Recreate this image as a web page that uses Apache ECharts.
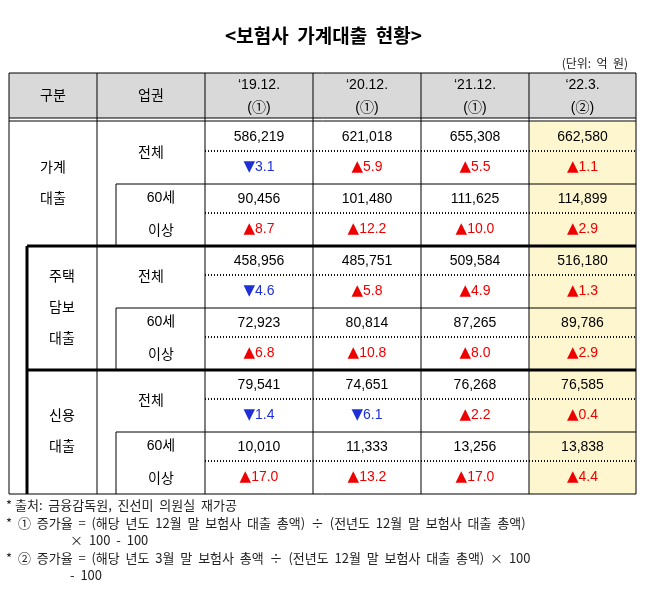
<!DOCTYPE html>
<html><head><meta charset="utf-8">
<script src="https://cdn.jsdelivr.net/npm/echarts@6/dist/echarts.min.js"></script>
<style>html,body{margin:0;background:#fff}#c{width:647px;height:598px}</style>
</head><body><div id="c"></div>
<script>
const periods = ['‘19.12.', '‘20.12.', '‘21.12.', '‘22.3.'];
const periodMarks = ['(①)', '(①)', '(①)', '(②)'];
const groups = [['가계', '대출'], ['주택', '담보', '대출'], ['신용', '대출']];
const subRows = ['전체', '60세 이상'];
const amounts = [
  [586219, 621018, 655308, 662580],
  [90456, 101480, 111625, 114899],
  [458956, 485751, 509584, 516180],
  [72923, 80814, 87265, 89786],
  [79541, 74651, 76268, 76585],
  [10010, 11333, 13256, 13838]
];
const rates = [
  [-3.1, 5.9, 5.5, 1.1],
  [8.7, 12.2, 10.0, 2.9],
  [-4.6, 5.8, 4.9, 1.3],
  [6.8, 10.8, 8.0, 2.9],
  [-1.4, -6.1, 2.2, 0.4],
  [17.0, 13.2, 17.0, 4.4]
];
const notes = [
  '* 출처:  금융감독원,  진선미  의원실  재가공',
  '*  ①  증가율  =  (해당  년도  12월  말  보험사  대출  총액)  ÷  (전년도  12월  말  보험사  대출  총액)',
  '                      ×  100  -  100',
  '*  ②  증가율  =  (해당  년도  3월  말  보험사  총액  ÷  (전년도  12월  말  보험사  대출  총액)  ×  100',
  '                      -  100'
];

// layout (table units = px inside grid)
const colX = [0, 88, 196, 304, 412, 520, 627];
const subX = 107, leftX = 18;
const headH = 45, bodyTop = 49, rowH = 62;
const FONT = '"Liberation Sans", "Noto Sans CJK KR", sans-serif';

const chart = echarts.init(document.getElementById('c'));

function renderTable(params, api) {
  const P = (x, y) => api.coord([x, y]);
  const kids = [];
  const rect = (x0, y0, x1, y1, fill) => {
    const a = P(x0, y0), b = P(x1, y1);
    kids.push({ type: 'rect', shape: { x: a[0], y: a[1], width: b[0] - a[0], height: b[1] - a[1] }, style: { fill } });
  };
  const line = (x0, y0, x1, y1, w, dash) => {
    const a = P(x0, y0), b = P(x1, y1);
    kids.push({ type: 'line', shape: { x1: a[0], y1: a[1], x2: b[0], y2: b[1] }, style: { stroke: '#000', lineWidth: w || 1, lineDash: dash || null } });
  };
  const text = (x, y, s, opt) => {
    const a = P(x, y);
    kids.push({ type: 'text', x: a[0], y: a[1], style: Object.assign({ text: s, fill: '#000', font: '14px ' + FONT, align: 'center', verticalAlign: 'middle' }, opt || {}) });
  };
  const end = bodyTop + rowH * 6;
  rect(0, 0, 627, headH, '#d9d9d9');
  rect(colX[5], bodyTop, colX[6], end, '#fdf6cf');

  // header
  text(44, 23, '구분');
  text(142, 23, '업권');
  periods.forEach((p, i) => {
    const cx = (colX[i + 2] + colX[i + 3]) / 2;
    text(cx, 12, p);
    text(cx, 35, periodMarks[i]);
  });

  // body rows
  amounts.forEach((row, r) => {
    const top = bodyTop + r * rowH;
    row.forEach((v, c) => {
      const cx = (colX[c + 2] + colX[c + 3]) / 2;
      text(cx, top + 15, v.toLocaleString('en-US'));
      const q = rates[r][c];
      const up = q >= 0;
      text(cx, top + 45, '{t|' + (up ? '▲' : '▼') + '}{n|' + Math.abs(q).toFixed(1) + '}', {
        rich: { t: { fill: up ? '#ee0000' : '#1f2fd8', font: '15px "DejaVu Sans"' }, n: { fill: up ? '#ee0000' : '#1f2fd8', font: '14px ' + FONT } }
      });
      line(colX[2], top + 29, colX[6], top + 29, 1, [1, 2]);
    });
    if (r % 2 === 0) {
      text(142, top + 31, subRows[0]);
    } else {
      text(152, top + 14, '60세');
      text(152, top + 47, '이상');
    }
  });
  groups.forEach((g, k) => {
    const top = bodyTop + k * rowH * 2;
    const cx = k === 0 ? 44 : 53;
    const gap = 31;
    g.forEach((s, j) => text(cx, top + rowH - (g.length - 1) * gap / 2 + j * gap, s));
  });

  // grid lines
  line(0, 0, 627, 0); line(0, end, 627, end);
  line(0, 0, 0, end); line(627, 0, 627, end);
  line(0, headH, 627, headH); line(0, bodyTop - 1, 627, bodyTop - 1);
  for (let i = 1; i < 6; i++) line(colX[i], 0, colX[i], end);
  for (let k = 0; k < 3; k++) {
    const top = bodyTop + k * rowH * 2;
    line(subX, top + rowH, 627, top + rowH);
    line(subX, top + rowH, subX, top + rowH * 2);
    if (k > 0) line(leftX, top, 627, top, 3);
  }
  line(leftX, bodyTop + rowH * 2, leftX, end, 3);
  return { type: 'group', children: kids };
}

chart.setOption({
  animation: false,
  title: [
    { text: '<보험사  가계대출  현황>', left: 'center', top: 21, textStyle: { fontFamily: '"Noto Sans CJK KR"', fontSize: 19, fontWeight: 'bold', color: '#000' } },
    { text: '(단위:  억  원)', right: 14, top: 52, textStyle: { fontFamily: '"Noto Sans CJK KR"', fontSize: 12, fontWeight: 'normal', color: '#222' } }
  ],
  grid: { left: 9, right: 11, top: 73, bottom: 104 },
  xAxis: { type: 'value', min: 0, max: 627, show: false },
  yAxis: { type: 'value', min: 0, max: 421, inverse: true, show: false },
  graphic: notes.map((s, i) => ({
    type: 'text', left: 6, top: 499 + [0, 18, 35, 53, 70][i],
    style: { text: s, font: '13px "Noto Sans CJK KR"', fill: '#222' }
  })),
  series: [{ type: 'custom', data: [[0, 0]], renderItem: renderTable, silent: true }]
});
</script></body></html>
